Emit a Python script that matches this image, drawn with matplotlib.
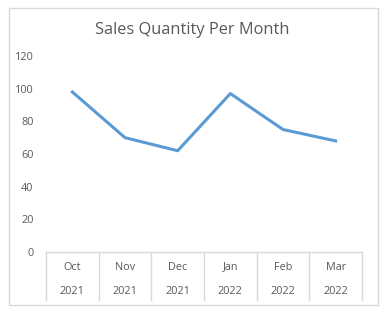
import matplotlib.pyplot as plt
from matplotlib.patches import Rectangle

months = ["Oct", "Nov", "Dec", "Jan", "Feb", "Mar"]
years = ["2021", "2021", "2021", "2022", "2022", "2022"]
sales = [98, 70, 62, 97, 75, 68]
yticks = [0, 20, 40, 60, 80, 100, 120]

plt.rcParams["font.family"] = ["Open Sans", "DejaVu Sans"]
txt = "#595959"
grid = "#d9d9d9"

fig = plt.figure(figsize=(3.87, 3.13), dpi=100)
W, H = 387, 313
ax = fig.add_axes([46 / W, (H - 252) / H, (362 - 46) / W, (252 - 56) / H])

# chart border
fig.patches.append(Rectangle((9 / W, (H - 305) / H), 369 / W, 297 / H,
                             transform=fig.transFigure, fill=False,
                             edgecolor=grid, linewidth=1))

x = list(range(len(months)))
ax.plot(x, sales, color="#5B9BD5", linewidth=2.2, solid_joinstyle="round")

ax.set_xlim(-0.5, len(months) - 0.5)
ax.set_ylim(0, 120)
ax.set_yticks(yticks)
ax.tick_params(axis="y", length=0, pad=9, labelsize=7.8, labelcolor=txt)
ax.set_xticks([])
for s in ["top", "right", "left"]:
    ax.spines[s].set_visible(False)
ax.spines["bottom"].set_color(grid)
ax.spines["bottom"].set_linewidth(1)

tr = ax.get_xaxis_transform()
for b in range(len(months) + 1):
    ax.plot([b - 0.5, b - 0.5], [0, -0.245], transform=tr, color=grid,
            linewidth=1, clip_on=False)
for i, (m, yr) in enumerate(zip(months, years)):
    ax.text(i, -0.077, m, transform=tr, ha="center", va="center",
            fontsize=7.8, color=txt)
    ax.text(i, -0.199, yr, transform=tr, ha="center", va="center",
            fontsize=7.8, color=txt)

fig.text(192 / W, (H - 30) / H, "Sales Quantity Per Month", ha="center",
         va="center", fontsize=11.8, color=txt)

fig.savefig("out.png", dpi=100)
